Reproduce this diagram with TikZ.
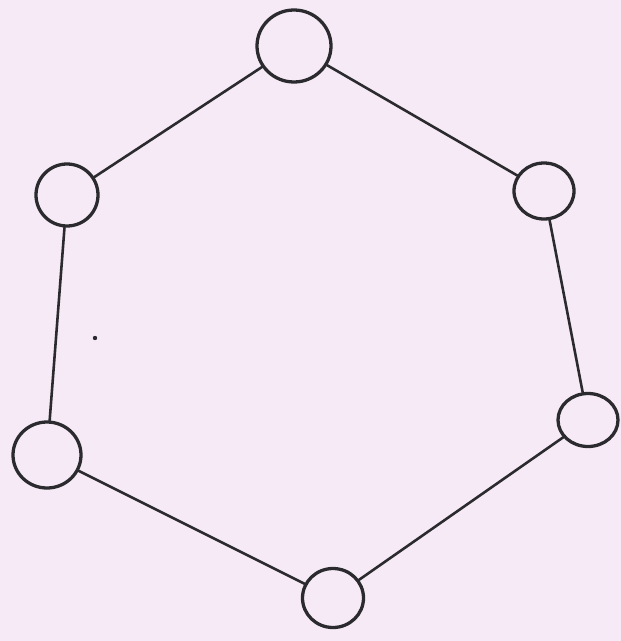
\documentclass[tikz,border=0pt]{standalone}
\usetikzlibrary{shapes.geometric}
\definecolor{paper}{HTML}{F6EAF6}
\definecolor{ink}{HTML}{2B2B2F}
\tikzset{
  vtx/.style={ellipse, draw=ink, line width=2.8pt, inner sep=0pt},
  edge/.style={draw=ink, line width=2.2pt, line cap=round}
}
\begin{document}
\begin{tikzpicture}[x=0.03cm, y=-0.03cm]
  \clip (0,0) rectangle (621,641);
  \fill[paper] (0,0) rectangle (621,641);
  \node[vtx, minimum width=74*0.03cm, minimum height=72*0.03cm] (t)  at (294,46) {};
  \node[vtx, minimum width=62*0.03cm, minimum height=62*0.03cm] (ul) at (67,195) {};
  \node[vtx, minimum width=60*0.03cm, minimum height=56*0.03cm] (ur) at (544,191) {};
  \node[vtx, minimum width=60*0.03cm, minimum height=53*0.03cm] (lr) at (588,420) {};
  \node[vtx, minimum width=61*0.03cm, minimum height=59*0.03cm] (b)  at (333,598) {};
  \node[vtx, minimum width=68*0.03cm, minimum height=66*0.03cm] (ll) at (47,455) {};
  \draw[edge] (t) -- (ul);
  \draw[edge] (t) -- (ur);
  \draw[edge] (ul) -- (ll);
  \draw[edge] (ur) -- (lr);
  \draw[edge] (ll) -- (b);
  \draw[edge] (lr) -- (b);
  \fill[ink] (95,338) circle (2.2);
\end{tikzpicture}
\end{document}
